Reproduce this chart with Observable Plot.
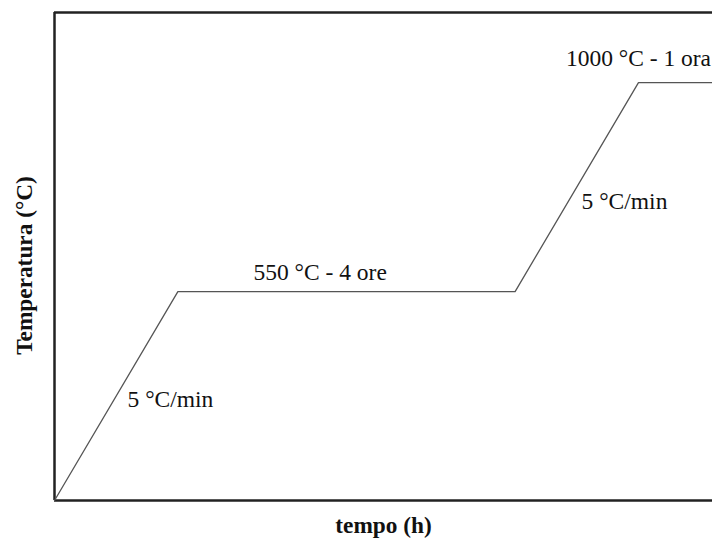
<!DOCTYPE html>
<html>
<head>
<meta charset="utf-8">
<script src="https://cdn.jsdelivr.net/npm/d3@7"></script>
<script src="https://cdn.jsdelivr.net/npm/@observablehq/plot@0.6"></script>
<style>
  html, body { margin: 0; padding: 0; background: #fff; }
  #chart svg { display: block; }
</style>
</head>
<body>
<div id="chart"></div>
<script>
// Heating profile (time in arbitrary hour units as drawn, temperature in °C)
const time = [0, 1.5, 5.6, 7.1, 8];
const temperature = [100, 550, 550, 1000, 1000];

// Annotations
const noteText = ["5 °C/min", "550 °C - 4 ore", "5 °C/min", "1000 °C - 1 ora"];
const noteTime = [1.41, 3.23, 6.93, 7.1];
const noteTemp = [318, 591, 744, 1052];

const xLabel = "tempo (h)";
const yLabel = "Temperatura (°C)";

const profile = time.map((t, i) => ({t, T: temperature[i]}));
const notes = noteText.map((s, i) => ({s, t: noteTime[i], T: noteTemp[i]}));

const font = "'Liberation Serif', 'Times New Roman', serif";

const chart = Plot.plot({
  width: 712,
  height: 540,
  marginLeft: 54,
  marginRight: 0,
  marginTop: 12,
  marginBottom: 40,
  style: {fontFamily: font, background: "#fff", color: "#111"},
  x: {domain: [0, 8], axis: null},
  y: {domain: [100, 1151], axis: null},
  marks: [
    Plot.ruleX([0], {stroke: "#222", strokeWidth: 2.5}),
    Plot.ruleY([100, 1151], {stroke: "#222", strokeWidth: 2.5}),
    Plot.line(profile, {x: "t", y: "T", stroke: "#555", strokeWidth: 1.3}),
    Plot.text(notes, {x: "t", y: "T", text: "s", fontSize: 23.5, fill: "#111"}),
    Plot.text([yLabel], {frameAnchor: "left", textAnchor: "middle", dx: -30, dy: 9, rotate: -90, fontSize: 23.3, fontWeight: "bold", fill: "#111"}),
    Plot.text([xLabel], {frameAnchor: "bottom", dy: 32, fontSize: 23.3, fontWeight: "bold", fill: "#111"})
  ]
});

document.getElementById("chart").appendChild(chart);
</script>
</body>
</html>
